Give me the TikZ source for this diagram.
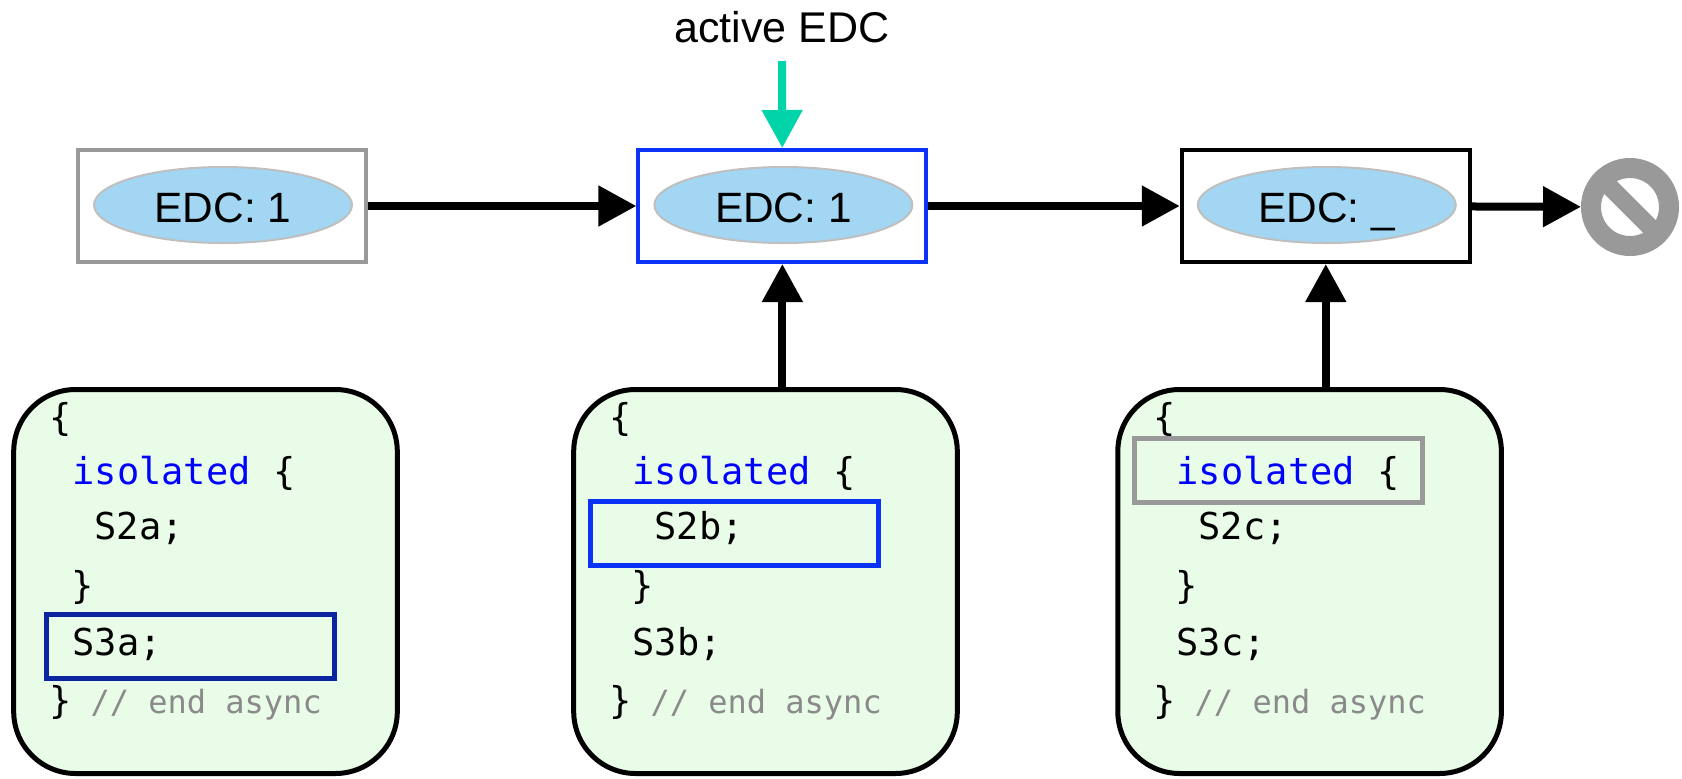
\documentclass[tikz,border=0pt]{standalone}
\usepackage{fontspec}
\setmainfont{Liberation Sans}
\newfontfamily\codefont{DejaVu Sans Mono}
\usetikzlibrary{shapes.geometric,arrows.meta,positioning}

\definecolor{edcblue}{HTML}{A2D6F2}
\definecolor{cardgreen}{HTML}{E8FCE8}
\definecolor{activeblue}{HTML}{0B33F5}
\definecolor{darkblue}{HTML}{0B24A0}
\definecolor{stopgray}{HTML}{999999}
\definecolor{activeteal}{HTML}{00D4A8}

\begin{document}
\begin{tikzpicture}[x=.5pt,y=-.5pt,
    flow/.style={line width=4pt,-{Triangle[length=19pt,width=19.5pt]}},
    frame/.style={rectangle,draw,line width=2pt,minimum width=144pt,minimum height=56pt,inner sep=0pt},
    edc/.style={ellipse,fill=edcblue,draw=black!25,line width=1pt,minimum width=129pt,minimum height=38pt,inner sep=0pt,text height=17.5pt,text depth=0pt,xshift=.5pt,yshift=.5pt,font=\fontsize{21.2}{24}\selectfont},
    card/.style={rectangle,rounded corners=31pt,draw,fill=cardgreen,line width=2.5pt,minimum width=191.8pt,minimum height=192pt},
    codeline/.style={anchor=base west,inner sep=0pt,font=\codefont\fontsize{18.5}{22}\selectfont},
    commentline/.style={anchor=base west,inner sep=0pt,text=stopgray!90!black,font=\codefont\fontsize{16}{20}\selectfont},
    hilite/.style={rectangle,draw,line width=2.5pt,minimum width=144pt,minimum height=32pt,inner sep=0pt}]
  \useasboundingbox (0,0) rectangle (1682,778);

  % EDC chain
  \node[frame,draw=stopgray] (box1) at (222,206) {};
  \node[frame,draw=activeblue] (box2) [right=134.2pt of box1] {};
  \node[frame,draw=black] (box3) [right=125.7pt of box2] {};
  \node[edc] (edc1) at (box1) {EDC: 1};
  \node[edc] (edc2) at (box2) {EDC: 1};
  \node[edc] (edc3) at (box3) {EDC: \_};
  \node[circle,draw=stopgray,line width=10pt,minimum size=39pt,inner sep=0pt] (stop) at (1630,207) {};
  \draw[stopgray,line width=9pt,shorten <=5pt,shorten >=5pt] (stop.135) -- (stop.-45);

  \node[font=\fontsize{21.5}{24}\selectfont,inner sep=0pt] (active) at (782,27) {active EDC};
  \coordinate (activestart) at (782,61);

  % code cards
  \node[card] (card1) at (205.5,581.5) {};
  \node[card] (card2) [right=85.7pt of card1] {};
  \node[card] (card3) [right=77.75pt of card2] {};

  \foreach \c/\s in {1/a,2/b,3/c} {
    \begin{scope}[shift={(card\c.north west)}]
      \node[codeline] (open\c) at (38,43) {\{};
      \node[codeline] (iso\c) at (61,97) {\textcolor{blue}{isolated} \{};
      \node[codeline] (stmt\c) at (83,152) {S2\s;};
      \node[codeline] (close\c) at (60,211) {\}};
      \node[codeline] (last\c) at (61,268) {S3\s;};
      \node[codeline] (end\c) at (38,326) {\}};
      \node[commentline] (note\c) at (79,326) {// end async};
    \end{scope}
  }

  \node[hilite,draw=darkblue] (mark1) at (190,646) {};
  \node[hilite,draw=activeblue] (mark2) at (734,533) {};
  \node[hilite,draw=stopgray] (mark3) at (1278,470) {};

  % arrows
  \draw[flow] (box1) -- (box2);
  \draw[flow] (box2) -- (box3);
  \draw[flow] (box3) -- (stop);
  \draw[flow] (box2 |- card2.north) -- (box2);
  \draw[flow] (box3 |- card3.north) -- (box3);
  \draw[flow,draw=activeteal,fill=activeteal] (activestart) -- (box2);
\end{tikzpicture}
\end{document}
